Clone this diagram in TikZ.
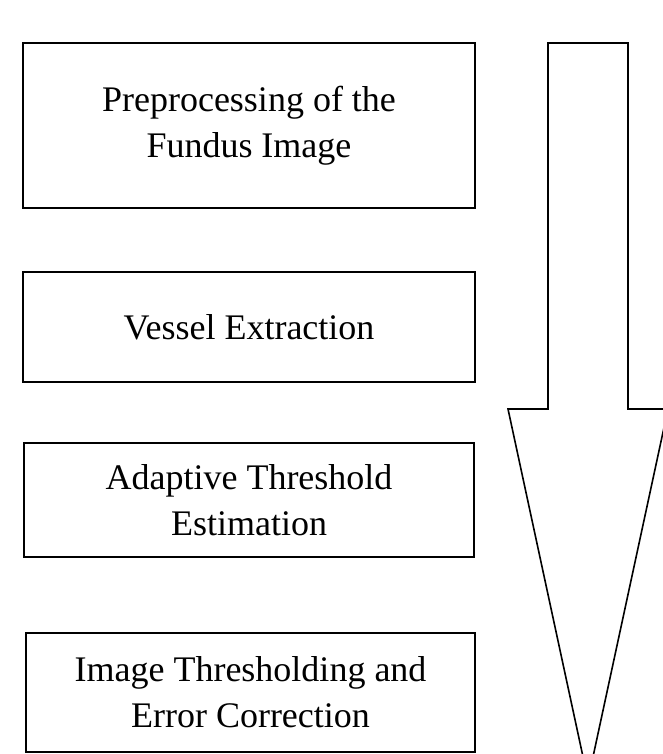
\documentclass[tikz,border=0pt]{standalone}
\usepackage{fontspec}
\setmainfont{Liberation Serif}
\begin{document}
\begin{tikzpicture}[x=1pt,y=-1pt,
  stagebox/.style={draw=black,line width=1.8pt,inner sep=0pt,align=center,
    font=\fontsize{36}{46}\selectfont},
  bigarrow/.style={draw=black,line width=1.6pt,line join=miter}]
\useasboundingbox (0,0) rectangle (663,754);
\clip (0,0) rectangle (663,754);
\node[stagebox,minimum width=452pt,minimum height=165pt] (b1) at (249,125.5)
  {Preprocessing of the\\Fundus Image};
\node[stagebox,minimum width=452pt,minimum height=110pt] (b2) at (249,327)
  {Vessel Extraction};
\node[stagebox,minimum width=450pt,minimum height=114pt] (b3) at (249,500)
  {Adaptive Threshold\\Estimation};
\node[stagebox,minimum width=449pt,minimum height=119pt] (b4) at (250.5,692.5)
  {Image Thresholding and\\Error Correction};
\coordinate (sTL) at (548,43);
\coordinate (sTR) at (628,43);
\coordinate (sBR) at (628,409);
\coordinate (hR) at (668,409);
\coordinate (tip) at (588,780);
\coordinate (hL) at (508,409);
\coordinate (sBL) at (548,409);
\draw[bigarrow] (sTL) -- (sTR) -- (sBR) -- (hR) -- (tip) -- (hL) -- (sBL) -- cycle;
\end{tikzpicture}
\end{document}
